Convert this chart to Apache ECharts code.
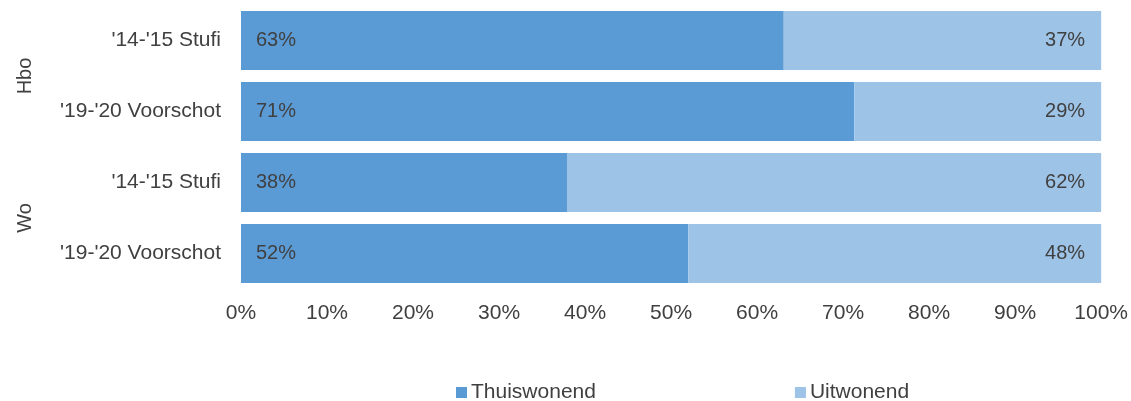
<!DOCTYPE html>
<html><head><meta charset="utf-8">
<script src="https://cdn.jsdelivr.net/npm/echarts@6/dist/echarts.min.js"></script>
<style>html,body{margin:0;padding:0;background:#fff}#c{width:1131px;height:401px}</style>
</head><body><div id="c"></div>
<script>
const categories = ["'14-'15 Stufi", "'19-'20 Voorschot", "'14-'15 Stufi", "'19-'20 Voorschot"];
const groups = ["Hbo", "Wo"];
const thuiswonend = [63.1, 71.3, 37.9, 52.0];
const uitwonend = [36.9, 28.7, 62.1, 48.0];
const seriesNames = ["Thuiswonend", "Uitwonend"];

const FONT = "Liberation Sans, Arial, sans-serif";
const TXT = "#404040";
const pct = p => Math.round(p.value) + '%';
const chart = echarts.init(document.getElementById('c'));
chart.setOption({
  animation: false,
  textStyle: { fontFamily: FONT },
  grid: { left: 241, right: 28, top: 5, bottom: 112, containLabel: false },
  legend: {
    top: 382, left: 456, padding: 0, itemWidth: 11, itemHeight: 11, itemGap: 199, icon: 'rect',
    textStyle: { fontFamily: FONT, fontSize: 21, color: TXT, padding: [0, 0, 0, -1] },
    data: seriesNames
  },
  xAxis: {
    type: 'value', min: 0, max: 100, interval: 10,
    axisLine: { show: false }, axisTick: { show: false }, splitLine: { show: false },
    axisLabel: { formatter: '{value}%', fontSize: 21, color: TXT, margin: 14, fontFamily: FONT }
  },
  yAxis: [{
    type: 'category', data: categories, inverse: true,
    axisLine: { show: false }, axisTick: { show: false },
    axisLabel: { fontSize: 21, color: TXT, margin: 20, fontFamily: FONT }
  }, {
    type: 'category', data: groups, inverse: true, position: 'left', offset: 206,
    axisLine: { show: false }, axisTick: { show: false },
    axisLabel: { fontSize: 20, color: TXT, rotate: 90, margin: 0, fontFamily: FONT }
  }],
  series: [{
    name: seriesNames[0], type: 'bar', stack: 's', data: thuiswonend, barCategoryGap: '17%',
    itemStyle: { color: '#5b9bd5' },
    label: { show: true, position: 'insideLeft', distance: 15, formatter: pct, fontSize: 20, color: TXT, fontFamily: FONT }
  }, {
    name: seriesNames[1], type: 'bar', stack: 's', data: uitwonend, barCategoryGap: '17%',
    itemStyle: { color: '#9dc3e6' },
    label: { show: true, position: 'insideRight', distance: 16, formatter: pct, fontSize: 20, color: TXT, fontFamily: FONT }
  }]
});
</script></body></html>
